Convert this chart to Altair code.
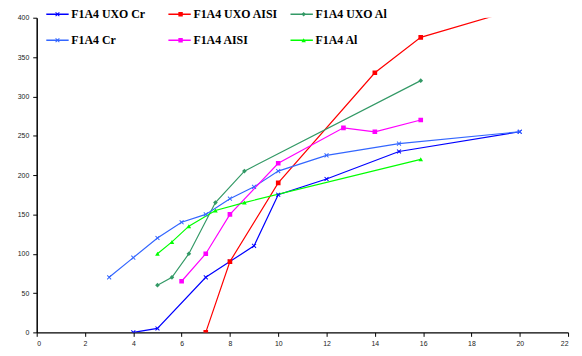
import altair as alt
import pandas as pd

# ---- data ----
series_names = ["F1A4 UXO Cr", "F1A4 UXO AISI", "F1A4 UXO Al",
                "F1A4 Cr", "F1A4 AISI", "F1A4 Al"]

uxo_cr_x = [4, 5, 7, 8, 9, 10, 12, 15, 20]
uxo_cr_y = [0, 5, 70, 90, 110, 175, 195, 230, 255]

uxo_aisi_x = [7, 8, 10, 14, 15.9, 20]
uxo_aisi_y = [0, 90, 190, 330, 375, 412]

uxo_al_x = [5, 5.6, 6.3, 7.4, 8.6, 15.9]
uxo_al_y = [60, 70, 100, 165, 205, 320]

cr_x = [3, 4, 5, 6, 7, 8, 9, 10, 12, 15, 20]
cr_y = [70, 95, 120, 140, 150, 170, 185, 205, 225, 240, 255]

aisi_x = [6, 7, 8, 10, 12.7, 14, 15.9]
aisi_y = [65, 100, 150, 215, 260, 255, 270]

al_x = [5, 5.6, 6.3, 7.4, 8.6, 15.9]
al_y = [100, 115, 135, 155, 165, 220]

colors = ["#0000FF", "#FF0000", "#339966", "#3366FF", "#FF00FF", "#00FF00"]

x_path = ("M-1,-0.7L-0.7,-1L0,-0.3L0.7,-1L1,-0.7L0.3,0L1,0.7L0.7,1L0,0.3"
          "L-0.7,1L-1,0.7L-0.3,0Z")
shapes = [x_path, "square", "diamond", x_path, "square", "triangle-up"]

xs = [uxo_cr_x, uxo_aisi_x, uxo_al_x, cr_x, aisi_x, al_x]
ys = [uxo_cr_y, uxo_aisi_y, uxo_al_y, cr_y, aisi_y, al_y]

# second key so the marker legend stays separate from the line legend
marker_names = ["m_" + n for n in series_names]

rows = []
for name, mname, sx, sy in zip(series_names, marker_names, xs, ys):
    for i, (a, b) in enumerate(zip(sx, sy)):
        rows.append({"series": name, "series2": mname, "x": a, "y": b, "order": i})
df = pd.DataFrame(rows)

FONT_SANS = "Liberation Sans"
FONT_SERIF = "Liberation Serif"

x_enc = alt.X("x:Q", scale=alt.Scale(domain=[0, 22], nice=False, zero=False),
              axis=alt.Axis(values=list(range(0, 23, 2)), title=None, grid=False,
                            domainColor="black", domainWidth=1.5, tickColor="black",
                            tickSize=4, labelFont=FONT_SANS, labelFontSize=7,
                            labelColor="#222", labelPadding=3))
y_enc = alt.Y("y:Q", scale=alt.Scale(domain=[0, 400], nice=False),
              axis=alt.Axis(values=list(range(0, 401, 50)), title=None, grid=False,
                            domainColor="black", domainWidth=1.5, tickColor="black",
                            tickSize=4, labelFont=FONT_SANS, labelFontSize=7,
                            labelColor="#222", labelPadding=4))

# line-legend entry: symbol cell 25 px + label offset 1.5 + widest label (~84.4)
COL_W = 25 + 1.5 + 84.4
common_legend = dict(orient="none", legendX=8.5, legendY=-11.5, columns=3,
                     direction="horizontal",
                     gridAlign="all", clipHeight=16, rowPadding=10.3,
                     columnPadding=11.4, padding=0, title=None,
                     labelFont=FONT_SERIF, labelFontSize=12, labelFontWeight="bold",
                     labelLimit=300)

lines = alt.Chart(df).mark_line(strokeWidth=1.2, clip=True).encode(
    x=x_enc, y=y_enc,
    order="order:Q",
    color=alt.Color("series:N", sort=series_names,
                    scale=alt.Scale(domain=series_names, range=colors),
                    legend=alt.Legend(symbolType="stroke", symbolSize=511,
                                      symbolStrokeWidth=1.5, labelOffset=1.5,
                                      labelColor="black", **common_legend)),
)

# marker legend: cell = max(ceil(sqrt(20)), 12) = 12 px
shape_legend = alt.Legend(symbolSize=20, symbolOffset=6.5,
                          labelOffset=COL_W - 17, labelExpr="''",
                          symbolStrokeWidth=0, **common_legend)

points = alt.Chart(df).mark_point(filled=True, size=22, opacity=1, clip=True).encode(
    x=x_enc, y=y_enc,
    fill=alt.Fill("series2:N", sort=marker_names,
                  scale=alt.Scale(domain=marker_names, range=colors),
                  legend=shape_legend),
    shape=alt.Shape("series2:N", sort=marker_names,
                    scale=alt.Scale(domain=marker_names, range=shapes),
                    legend=shape_legend),
)

chart = alt.layer(lines, points).properties(
    width=537, height=318,
    autosize=alt.AutoSizeParams(type="none"),
    padding={"left": 29, "top": 8, "right": 6, "bottom": 18},
    background="white",
).configure_view(stroke=None)

chart.save("out.html", embed_options={"renderer": "svg", "actions": False})
